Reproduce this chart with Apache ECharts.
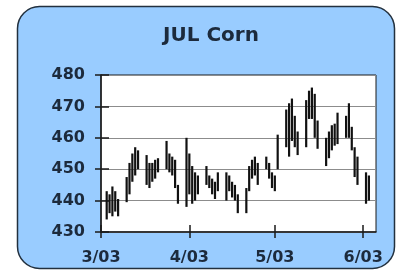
<!DOCTYPE html>
<html>
<head>
<meta charset="utf-8">
<script src="https://cdn.jsdelivr.net/npm/echarts@6/dist/echarts.min.js"></script>
<style>
html,body{margin:0;padding:0;background:#fff;}
#c{width:398px;height:270px;}
</style>
</head>
<body>
<div id="c"></div>
<script>
const title = 'JUL Corn';
const dates = [
 '2003-03-03','2003-03-04','2003-03-05','2003-03-06','2003-03-07',
 '2003-03-10','2003-03-11','2003-03-12','2003-03-13','2003-03-14',
 '2003-03-17','2003-03-18','2003-03-19','2003-03-20','2003-03-21',
 '2003-03-24','2003-03-25','2003-03-26','2003-03-27','2003-03-28',
 '2003-03-31','2003-04-01','2003-04-02','2003-04-03','2003-04-04',
 '2003-04-07','2003-04-08','2003-04-09','2003-04-10','2003-04-11',
 '2003-04-14','2003-04-15','2003-04-16','2003-04-17','2003-04-18',
 '2003-04-21','2003-04-22','2003-04-23','2003-04-24','2003-04-25',
 '2003-04-28','2003-04-29','2003-04-30','2003-05-01','2003-05-02',
 '2003-05-05','2003-05-06','2003-05-07','2003-05-08','2003-05-09',
 '2003-05-12','2003-05-13','2003-05-14','2003-05-15','2003-05-16',
 '2003-05-19','2003-05-20','2003-05-21','2003-05-22','2003-05-23',
 '2003-05-26','2003-05-27','2003-05-28','2003-05-29','2003-05-30',
 '2003-06-02','2003-06-03'
];
const highs = [
 443,442,444.5,443,440.5,
 447.5,452,455,457,456,
 454.5,452,452,453,453.5,
 459,455,454,453,445,
 460,455,451,449,448,
 451,448,447,446,449,
 449,448,446,445,442,
 444,451,453,454,452,
 454,452,449,448,461,
 469,471,472.5,467,462,
 472,475,476,474,465.5,
 460,462,464,464.5,468,
 467,471,463.5,457,454,
 449,448
];
const lows = [
 434,436,435,436.5,435,
 439.5,442,446,448,450,
 445,444,446,447,449,
 450,449,448,444,439,
 438,442,439,440,442,
 445,444,442,440.5,443,
 440,443,441,440,436,
 436,443,447,448,445,
 450,447,444,443,450,
 457,454,459,457,454.5,
 457,466,466,460,456.5,
 451,453.5,456,457.5,458,
 460,460,456,447.5,445,
 439,440
];
const tickDates = ['2003-03-01','2003-04-01','2003-05-01','2003-06-01'];
const tickLabels = ['3/03','4/03','5/03','6/03'];
const axisStart = '2003-03-01';
const axisEnd = '2003-06-05T12:00:00';
const yTicks = [430,440,450,460,470,480];

const DAY = 86400000;
const t0 = +echarts.time.parse(axisStart);
const toDay = s => (+echarts.time.parse(s) - t0) / DAY;
const tickDays = tickDates.map(toDay);
const seriesData = dates.map((d, i) => [toDay(d), lows[i], highs[i]]);

const font = 'DejaVu Sans';
const txtColor = '#1c2a3c';
const lineColor = '#1a1a1a';

const chart = echarts.init(document.getElementById('c'), null, {renderer: 'canvas'});
chart.setOption({
  animation: false,
  backgroundColor: '#fff',
  graphic: [
    {type: 'rect', z: -100, shape: {x: 17.5, y: 6.5, width: 377, height: 262, r: 22},
     style: {fill: '#99ccff', stroke: '#22303e', lineWidth: 1.5}},
    {type: 'text', z: 10, x: 211, y: 36,
     style: {text: title, fill: txtColor, font: 'bold 20px "DejaVu Sans"', textAlign: 'center', textVerticalAlign: 'middle'}}
  ],
  grid: {left: 101, right: 22, top: 75, bottom: 38, show: true, backgroundColor: '#fff', borderColor: lineColor, borderWidth: 1},
  xAxis: [
    {type: 'value', min: 0, max: toDay(axisEnd), position: 'bottom',
     axisLine: {show: true, lineStyle: {color: lineColor, width: 1.5}},
     axisTick: {show: true, customValues: tickDays, length: 6, lineStyle: {color: lineColor, width: 1.5}},
     axisLabel: {customValues: tickDays, margin: 18, fontFamily: font, fontWeight: 'bold', fontSize: 16, color: txtColor,
       formatter: v => { const i = tickDays.findIndex(t => Math.abs(t - v) < 0.01); return i >= 0 ? tickLabels[i] : ''; }},
     splitLine: {show: false}},
    {type: 'value', min: 0, max: toDay(axisEnd), position: 'bottom',
     axisLine: {show: false},
     axisTick: {show: true, inside: true, customValues: tickDays, length: 7, lineStyle: {color: lineColor, width: 1.5}},
     axisLabel: {show: false}, splitLine: {show: false}}
  ],
  yAxis: [
    {type: 'value', min: 430, max: 480, interval: 10, position: 'left',
     axisLine: {show: true, lineStyle: {color: lineColor, width: 1.5}},
     axisTick: {show: true, length: 6, lineStyle: {color: lineColor, width: 1.5}},
     axisLabel: {margin: 16, fontFamily: font, fontWeight: 'bold', fontSize: 16, color: txtColor,
       formatter: v => yTicks.includes(v) ? String(v) : ''},
     splitLine: {show: true, lineStyle: {color: '#8c8c8c', width: 1}}},
    {type: 'value', min: 430, max: 480, interval: 10, position: 'left',
     axisLine: {show: false},
     axisTick: {show: true, inside: true, length: 8, lineStyle: {color: lineColor, width: 1.5}},
     axisLabel: {show: false}, splitLine: {show: false}}
  ],
  series: [{
    type: 'custom', xAxisIndex: 0, yAxisIndex: 0,
    data: seriesData,
    encode: {x: 0, y: [1, 2]},
    renderItem: function (params, api) {
      const x = api.value(0);
      const lo = api.coord([x, api.value(1)]);
      const hi = api.coord([x, api.value(2)]);
      return {type: 'rect', shape: {x: lo[0] - 1.1, y: hi[1], width: 2.2, height: lo[1] - hi[1]},
              style: {fill: '#111'}};
    }
  }]
});
</script>
</body>
</html>
